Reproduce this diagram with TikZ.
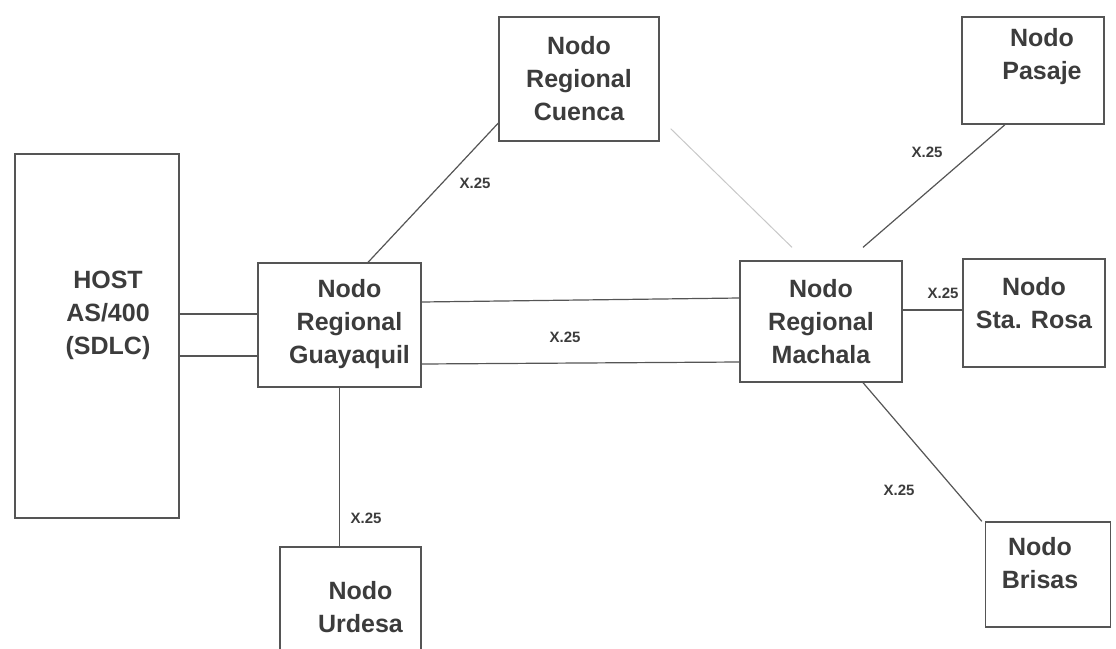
\documentclass[tikz,border=0pt]{standalone}
\usepackage{fontspec}
\setmainfont{Liberation Sans}
\usepackage{tikz}
\usetikzlibrary{positioning,calc}
\definecolor{nwline}{RGB}{85,85,85}
\definecolor{nwtext}{RGB}{60,60,60}
\definecolor{nwfaint}{RGB}{200,200,200}
\tikzstyle{nodebox} = [rectangle, draw=nwline, line width=1.3pt, fill=white, inner sep=0pt]
\tikzstyle{nodetxt} = [align=center, text=nwtext, font=\bfseries\fontsize{25}{33}\selectfont]
\tikzstyle{link} = [draw=nwline, line width=1.2pt]
\tikzstyle{linklbl} = [text=nwtext, font=\bfseries\fontsize{15}{17}\selectfont, inner sep=1pt]

\begin{document}
\begin{tikzpicture}[x=1pt,y=-1pt]
\useasboundingbox (0,0) rectangle (1116,648);
% boxes
\node[nodebox, minimum width=164pt, minimum height=364pt] (host) at (97,336) {};
\node[nodebox, minimum width=163pt, minimum height=124pt] (gye) at (339.5,325) {};
\node[nodebox, minimum width=160pt, minimum height=124pt] (cue) at (579,79) {};
\node[nodebox, minimum width=162pt, minimum height=121pt] (mach) at (821,321.5) {};
\node[nodebox, minimum width=142pt, minimum height=107pt] (pas) at (1033,70.5) {};
\node[nodebox, minimum width=142pt, minimum height=108pt] (sro) at (1034,313) {};
\node[nodebox, minimum width=125pt, minimum height=105pt] (bri) at (1048,574.5) {};
\node[nodebox, minimum width=141pt, minimum height=106pt] (urd) at (350.5,600) {};

% texts
\node[nodetxt] (hosttxt) at ([shift={(11,-21)}]host.center) {HOST\\AS/400\\(SDLC)};
\node[nodetxt] (gyetxt) at ([shift={(10,-1)}]gye.center) {Nodo\\Regional\\Guayaquil};
\node[nodetxt] (cuetxt) at (cue.center) {Nodo\\Regional\\Cuenca};
\node[nodetxt] (machtxt) at (mach.center) {Nodo\\Regional\\Machala};
\node[nodetxt] (pastxt) at ([shift={(9,-14)}]pas.center) {Nodo\\Pasaje};
\node[nodetxt] (srotxt) at ([shift={(0,-10)}]sro.center) {Nodo\\Sta. Rosa};
\node[nodetxt] (britxt) at ([shift={(-8,-11)}]bri.center) {Nodo\\Brisas};
\node[nodetxt] (urdtxt) at ([shift={(10,7)}]urd.center) {Nodo\\Urdesa};

% links
\draw[link] ([shift={(0,-11)}]host.east |- gye.west) -- ([shift={(0,-11)}]gye.west);
\draw[link] ([shift={(0,31)}]host.east |- gye.west) -- ([shift={(0,31)}]gye.west);
\draw[link] ([shift={(0,-23)}]gye.east) -- ([shift={(0,-23.5)}]mach.west);
\draw[link] ([shift={(0,39)}]gye.east) -- ([shift={(0,40.5)}]mach.west);
\draw[link] ([shift={(28.5,0)}]gye.north) -- ([shift={(0,44)}]cue.west);
\draw[nwfaint, line width=1pt] ([shift={(11,-13)}]cue.south east) -- ([shift={(-29,-13)}]mach.north);
\draw[link] ([shift={(42,-13)}]mach.north) -- ([shift={(-28,0)}]pas.south);
\draw[link] ([shift={(0,-11.5)}]mach.east) -- ([shift={(0,-11.5)}]mach.east -| sro.west);
\draw[link] ([shift={(42,0)}]mach.south) -- ([shift={(-3,0)}]bri.north west);
\draw[link] (gye.south) -- (gye.south |- urd.north);

% labels
\node[linklbl] (l1) at (475,183) {X.25};
\node[linklbl] (l2) at (565,337) {X.25};
\node[linklbl] (l3) at (927,152) {X.25};
\node[linklbl, fill=white] (l4) at (943,293) {X.25};
\node[linklbl] (l5) at (899,490) {X.25};
\node[linklbl] (l6) at (366,518) {X.25};
\end{tikzpicture}
\end{document}
